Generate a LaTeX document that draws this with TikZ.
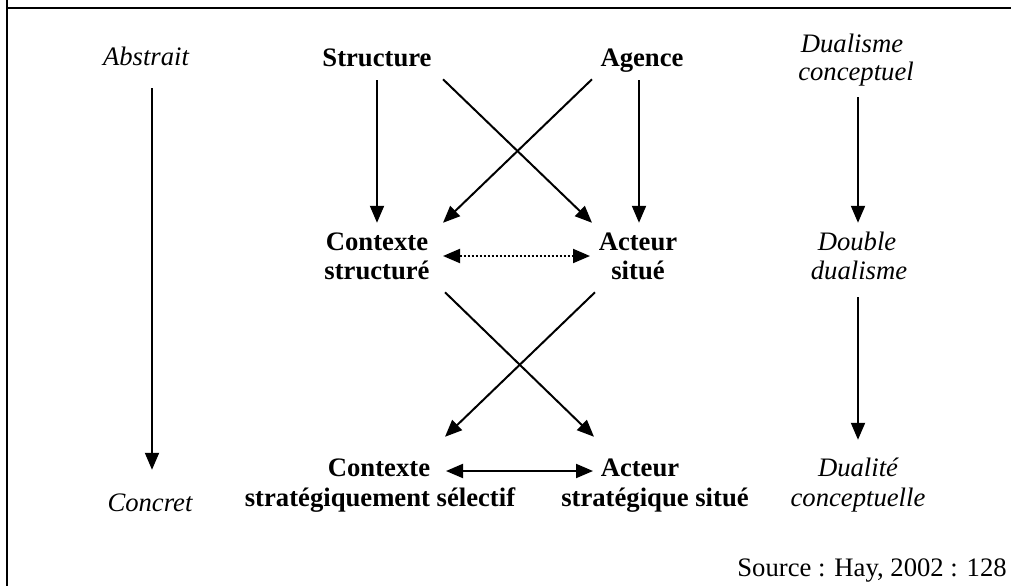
\documentclass[tikz,border=0pt]{standalone}
\usepackage{fontspec}
\setmainfont{Liberation Serif}
\usetikzlibrary{arrows.meta}
\begin{document}
\begin{tikzpicture}[x=0.75pt,y=-0.75pt,
  lbl/.style={inner sep=0pt,anchor=base,text height=14pt,text depth=4.5pt,font=\fontsize{20}{22}\selectfont},
  bl/.style={lbl,font=\fontsize{20}{22}\selectfont\bfseries},
  it/.style={lbl,font=\fontsize{20}{22}\selectfont\itshape},
  tip/.tip={Triangle[length=12.75pt,width=10.5pt]},
  arr/.style={line width=1.5pt,-tip},
  darr/.style={line width=1.5pt,tip-tip},
  frame/.style={line width=1.5pt}]
\useasboundingbox (0,0) rectangle (1011,586);
% frame
\coordinate (ftl) at (6.5,8);
\coordinate (fbl) at (6.5,586);
\coordinate (ftop) at (6.5,0);
\coordinate (ftr) at (1011,8);
\draw[frame] (ftop) -- (fbl);
\draw[frame] (ftl) -- (ftr);
% labels
\node[it] (abs) at (146,65) {Abstrait};
\node[it] (conc) at (150,511) {Concret};
\node[bl] (str) at (377,66) {Structure};
\node[bl] (age) at (642,66) {Agence};
\node[it] (dua1) at (852,52) {Dualisme};
\node[it] (dua2) at (856,80) {conceptuel};
\node[bl] (ctx1) at (377,250) {Contexte};
\node[bl] (ctx2) at (377,279) {structuré};
\node[bl] (act1) at (638,250) {Acteur};
\node[bl] (act2) at (638,279) {situé};
\node[it] (dbl1) at (857,250) {Double};
\node[it] (dbl2) at (859,279) {dualisme};
\node[bl] (csel1) at (379,476) {Contexte};
\node[bl] (csel2) at (380,506) {stratégiquement sélectif};
\node[bl] (ast1) at (640,476) {Acteur};
\node[bl] (ast2) at (655,506) {stratégique situé};
\node[it] (dlt1) at (858,476) {Dualité};
\node[it] (dlt2) at (858,506) {conceptuelle};
\node[lbl,anchor=base east] (src) at (1007,576) {Source : Hay, 2002 : 128};
% connectors
\draw[arr] ([shift={(6,17)}]abs.south) -- ([shift={(2,-22.3)}]conc.north);
\draw[arr] ([shift={(0,8)}]str.south) -- ([shift={(0,-8.3)}]ctx1.north);
\draw[arr] ([shift={(-3,8)}]age.south) -- ([shift={(1,-8.3)}]act1.north);
\draw[arr] ([shift={(66,7)}]str.south) -- ([shift={(-46,-8.3)}]act1.north);
\draw[arr] ([shift={(-50,7)}]age.south) -- ([shift={(66,-8.3)}]ctx1.north);
\draw[darr,dash pattern=on 1.5pt off 1.5pt] ([shift={(66,6)}]ctx1.base) -- ([shift={(-48,6)}]act1.base);
\draw[arr] ([shift={(2,11)}]dua2.south) -- ([shift={(1,-8.3)}]dbl1.north);
\draw[arr] ([shift={(68,7)}]ctx2.south) -- ([shift={(-46,-20.3)}]ast1.north);
\draw[arr] ([shift={(-43,7)}]act2.south) -- ([shift={(66,-20.3)}]csel1.north);
\draw[arr] ([shift={(-1,12)}]dbl2.south) -- ([shift={(0,-17.3)}]dlt1.north);
\draw[darr] ([shift={(67,-5)}]csel1.base) -- ([shift={(-47,-5)}]ast1.base);
\end{tikzpicture}
\end{document}
